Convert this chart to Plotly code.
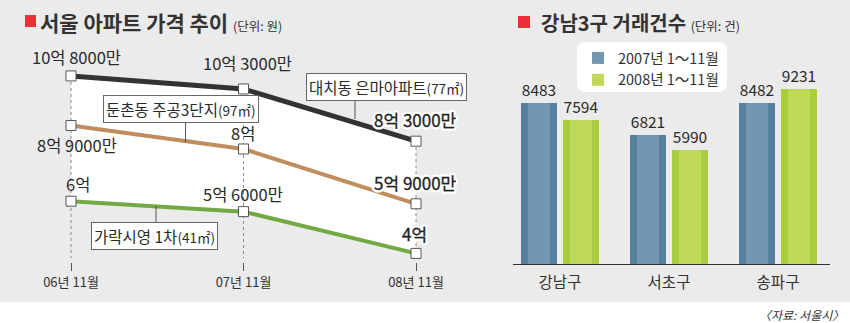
import plotly.graph_objects as go

W, H = 850, 323
FONT = "Noto Sans CJK KR"

# ---------------- data ----------------
periods = ["06년 11월", "07년 11월", "08년 11월"]
daechi = [10.8, 10.3, 8.3]      # 억 원
dunchon = [8.9, 8.0, 5.9]
garak = [6.0, 5.6, 4.0]
complex_names = ["대치동 은마아파트", "둔촌동 주공3단지", "가락시영 1차"]
complex_sizes = ["77㎡", "97㎡", "41㎡"]

districts = ["강남구", "서초구", "송파구"]
deals_2007 = [8483, 6821, 8482]
deals_2008 = [7594, 5990, 9231]
deal_periods = ["2007년 1～11월", "2008년 1～11월"]


def px(x):
    return x / W


def py(y):
    return 1 - y / H


def fmt_won(v):
    eok = int(v)
    man = int(round((v - eok) * 10000))
    return f"{eok}억" + (f" {man}만" if man else "")


x_idx = list(range(len(periods)))
fig = go.Figure()

# white band between top and bottom line
fig.add_trace(go.Scatter(
    x=x_idx + x_idx[::-1], y=daechi + garak[::-1], fill="toself",
    fillcolor="white", mode="lines", line=dict(width=0),
    hoverinfo="skip", showlegend=False, xaxis="x", yaxis="y"))

# dotted drop lines
DROP_BOTTOM = 3.82
for i in x_idx:
    fig.add_trace(go.Scatter(
        x=[i, i], y=[daechi[i], DROP_BOTTOM], mode="lines",
        line=dict(color="#8a8a8a", width=1, dash="dot"),
        hoverinfo="skip", showlegend=False, xaxis="x", yaxis="y"))

line_styles = [(garak, "#73a943", 4), (dunchon, "#c08d5f", 4), (daechi, "#333333", 5)]
for vals, color, lw in line_styles:
    fig.add_trace(go.Scatter(
        x=x_idx, y=vals, mode="lines+markers",
        line=dict(color=color, width=lw),
        marker=dict(symbol="square", size=10, color="white",
                    line=dict(color="#555555", width=1)),
        showlegend=False, xaxis="x", yaxis="y", cliponaxis=False))

# bars (dark edge bar + lighter centre bar)
BW = 36 / 109
STRIPE = 7 / 109
bar_sets = [
    (deals_2007, deal_periods[0], "#55819f", "#7397b1", -39 / 109),
    (deals_2008, deal_periods[1], "#a8ce3d", "#bfd95b", 3 / 109),
]
for vals, name, dark, light, off in bar_sets:
    fig.add_trace(go.Bar(
        x=districts, y=vals, offset=off, width=BW,
        marker=dict(color=dark, line=dict(width=0)),
        text=[str(v) for v in vals], textposition="outside",
        textfont=dict(family=FONT, size=15.5, color="#2a2a2a"),
        cliponaxis=False, showlegend=False, hoverinfo="skip",
        xaxis="x2", yaxis="y2"))
    fig.add_trace(go.Bar(
        x=districts, y=vals, offset=off + STRIPE, width=BW - 2 * STRIPE,
        marker=dict(color=light, line=dict(width=0)), name=name,
        showlegend=True, hoverinfo="skip", xaxis="x2", yaxis="y2"))

annotations = []

# value labels for line chart
label_offsets = {
    0: [(5, -18.5), (3.5, -26), (-1, -21.5)],
    1: [(6, 19), (-1, -16), (-1, -21)],
    2: [(6.5, -17), (-0.5, -17.5), (-2, -19.5)],
}
for s, vals in enumerate([daechi, dunchon, garak]):
    for i, v in enumerate(vals):
        dx, dy = label_offsets[s][i]
        txt = fmt_won(v)
        if i == 2:
            annotations.append(dict(
                x=i, y=v, xref="x", yref="y", showarrow=False,
                text=("<span style='stroke:white;stroke-width:5px;"
                      "stroke-linejoin:round'>" + txt + "</span>"),
                xshift=dx, yshift=-dy, xanchor="center", yanchor="middle",
                font=dict(family=FONT, size=17, color="white")))
            annotations.append(dict(
                x=i, y=v, xref="x", yref="y", showarrow=False,
                text="<span style='stroke:#222;stroke-width:0.3px'>" + txt + "</span>",
                xshift=dx, yshift=-dy, xanchor="center", yanchor="middle",
                font=dict(family=FONT, size=17, color="#222222")))
        else:
            annotations.append(dict(
                x=i, y=v, xref="x", yref="y", text=txt,
                showarrow=False, xshift=dx, yshift=-dy, xanchor="center",
                yanchor="middle", font=dict(family=FONT, size=16.5, color="#2a2a2a")))

# callout boxes
callouts = [(386.5, 86.5), (181, 108.5), (154.5, 235.5)]
for (cx, cy), nm, sz in zip(callouts, complex_names, complex_sizes):
    annotations.append(dict(
        x=px(cx), y=py(cy), xref="paper", yref="paper", showarrow=False,
        text=f"{nm}<span style='font-size:13.5px'>({sz})</span>",
        font=dict(family=FONT, size=15.5, color="#2a2a2a"),
        bgcolor="white", bordercolor="#666666", borderwidth=1, borderpad=2,
        xanchor="center", yanchor="middle"))

# titles
annotations.append(dict(
    x=px(38), y=py(22), xref="paper", yref="paper", showarrow=False,
    xanchor="left", yanchor="middle",
    text="<b>서울 아파트 가격 추이</b> <span style='font-size:12.5px'>(단위: 원)</span>",
    font=dict(family=FONT, size=21, color="#333333")))
annotations.append(dict(
    x=px(539), y=py(22), xref="paper", yref="paper", showarrow=False,
    xanchor="left", yanchor="middle",
    text="<b>강남3구 거래건수</b> <span style='font-size:12.5px'>(단위: 건)</span>",
    font=dict(family=FONT, size=20, color="#333333")))
annotations.append(dict(
    x=px(846), y=py(314), xref="paper", yref="paper", showarrow=False,
    xanchor="right", yanchor="middle", text="<i>〈자료: 서울시〉</i>",
    font=dict(family=FONT, size=12, color="#333333")))


def rrect(x0, y0, x1, y1, r):
    return (f"M{px(x0 + r)},{py(y0)} L{px(x1 - r)},{py(y0)} "
            f"Q{px(x1)},{py(y0)} {px(x1)},{py(y0 + r)} L{px(x1)},{py(y1 - r)} "
            f"Q{px(x1)},{py(y1)} {px(x1 - r)},{py(y1)} L{px(x0 + r)},{py(y1)} "
            f"Q{px(x0)},{py(y1)} {px(x0)},{py(y1 - r)} L{px(x0)},{py(y0 + r)} "
            f"Q{px(x0)},{py(y0)} {px(x0 + r)},{py(y0)} Z")


shapes = [
    dict(type="rect", xref="paper", yref="paper", x0=0, x1=1, y0=py(302), y1=1,
         fillcolor="#ebebeb", line=dict(width=0), layer="below"),
    dict(type="rect", xref="paper", yref="paper", x0=px(25), x1=px(36),
         y0=py(27), y1=py(15), fillcolor="#ee2e36", line=dict(width=0), layer="below"),
    dict(type="rect", xref="paper", yref="paper", x0=px(518), x1=px(530),
         y0=py(28), y1=py(16), fillcolor="#ee2e36", line=dict(width=0), layer="below"),
    dict(type="path", xref="paper", yref="paper", path=rrect(577, 42, 727, 92, 9),
         fillcolor="white", line=dict(width=0), layer="below"),
]
for (lx, ly0, ly1) in [(355, 98, 119), (185.5, 120, 142), (156, 206, 224)]:
    shapes.append(dict(type="line", xref="paper", yref="paper",
                       x0=px(lx), x1=px(lx), y0=py(ly0), y1=py(ly1),
                       line=dict(color="#555555", width=1), layer="above"))

fig.update_layout(
    width=W, height=H, margin=dict(l=0, r=0, t=0, b=0, pad=0),
    paper_bgcolor="white", plot_bgcolor="rgba(0,0,0,0)",
    barmode="overlay", bargap=0,
    font=dict(family=FONT, color="#333333"),
    showlegend=True,
    legend=dict(x=px(578), y=py(42), xanchor="left", yanchor="top",
                bgcolor="rgba(0,0,0,0)", traceorder="normal",
                font=dict(family=FONT, size=14.5, color="#333333"),
                itemclick=False, itemdoubleclick=False),
    xaxis=dict(domain=[0, px(500)], range=[-71 / 172.5, 429 / 172.5],
               tickvals=x_idx, ticktext=periods, ticks="outside", ticklen=8,
               tickcolor="#555555", tickwidth=1, showline=False, showgrid=False,
               zeroline=False, tickfont=dict(family=FONT, size=13, color="#333333"),
               fixedrange=True),
    yaxis=dict(domain=[py(262), py(40)], range=[3.670, 12.176], visible=False,
               fixedrange=True),
    xaxis2=dict(domain=[px(513), px(830)], range=[-47 / 109, 270 / 109],
                anchor="y2", showline=True, linecolor="#333333", linewidth=1,
                ticks="", showgrid=False, zeroline=False, ticklabelstandoff=4,
                tickfont=dict(family=FONT, size=15.5, color="#333333"),
                fixedrange=True),
    yaxis2=dict(domain=[py(264), py(40)], range=[0, 224 / 0.01897],
                visible=False, anchor="x2", fixedrange=True),
    shapes=shapes, annotations=annotations,
)

fig.write_html("out.html")
